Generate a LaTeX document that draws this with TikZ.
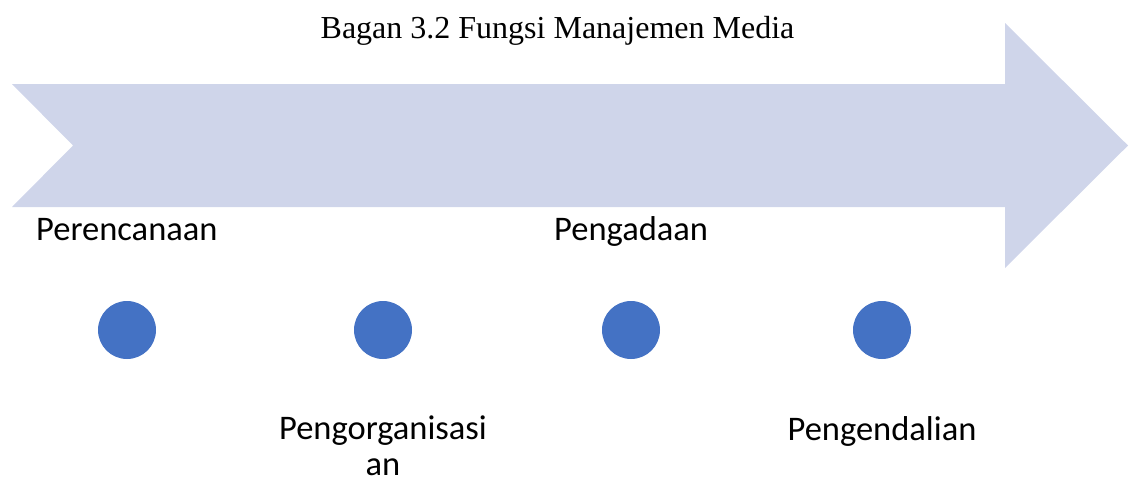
\documentclass[tikz,border=0pt]{standalone}
\usepackage{fontspec}
\setmainfont{Liberation Serif}
\newfontfamily\labelfont{Carlito}
\definecolor{arrowfill}{HTML}{CFD5EA}
\definecolor{dotblue}{HTML}{4472C4}
\begin{document}
\begin{tikzpicture}[x=1pt,y=-1pt,
  dot/.style={circle,fill=dotblue,draw=none,minimum size=58pt,inner sep=0pt},
  lbl/.style={inner sep=0pt,font=\labelfont\fontsize{34.5}{36}\selectfont,text=black},
  ttl/.style={inner sep=0pt,font=\fontsize{32}{38}\selectfont,text=black}]
\useasboundingbox (0,0) rectangle (1131,482);
% big notched arrow
\fill[arrowfill] (12,84) -- (1005,84) -- (1005,23) -- (1128,145.5) -- (1005,268) -- (1005,207) -- (12,207) -- (73,145.5) -- cycle;
% title
\node[ttl,anchor=base] (title) at (557.5,38) {Bagan 3.2 Fungsi Manajemen Media};
% dots
\node[dot] (d1) at (127,330) {};
\node[dot] (d2) at (383,330) {};
\node[dot] (d3) at (631,330) {};
\node[dot] (d4) at (882,330) {};
% labels
\node[lbl,anchor=base west] (l1) at (36,240) {Perencanaan};
\node[lbl,anchor=base west] (l3) at (554,240) {Pengadaan};
\node[lbl,anchor=base,align=center] (l2) at (383,475) {Pengorganisasi\\an};
\node[lbl,anchor=base] (l4) at (882,440) {Pengendalian};
\end{tikzpicture}
\end{document}
